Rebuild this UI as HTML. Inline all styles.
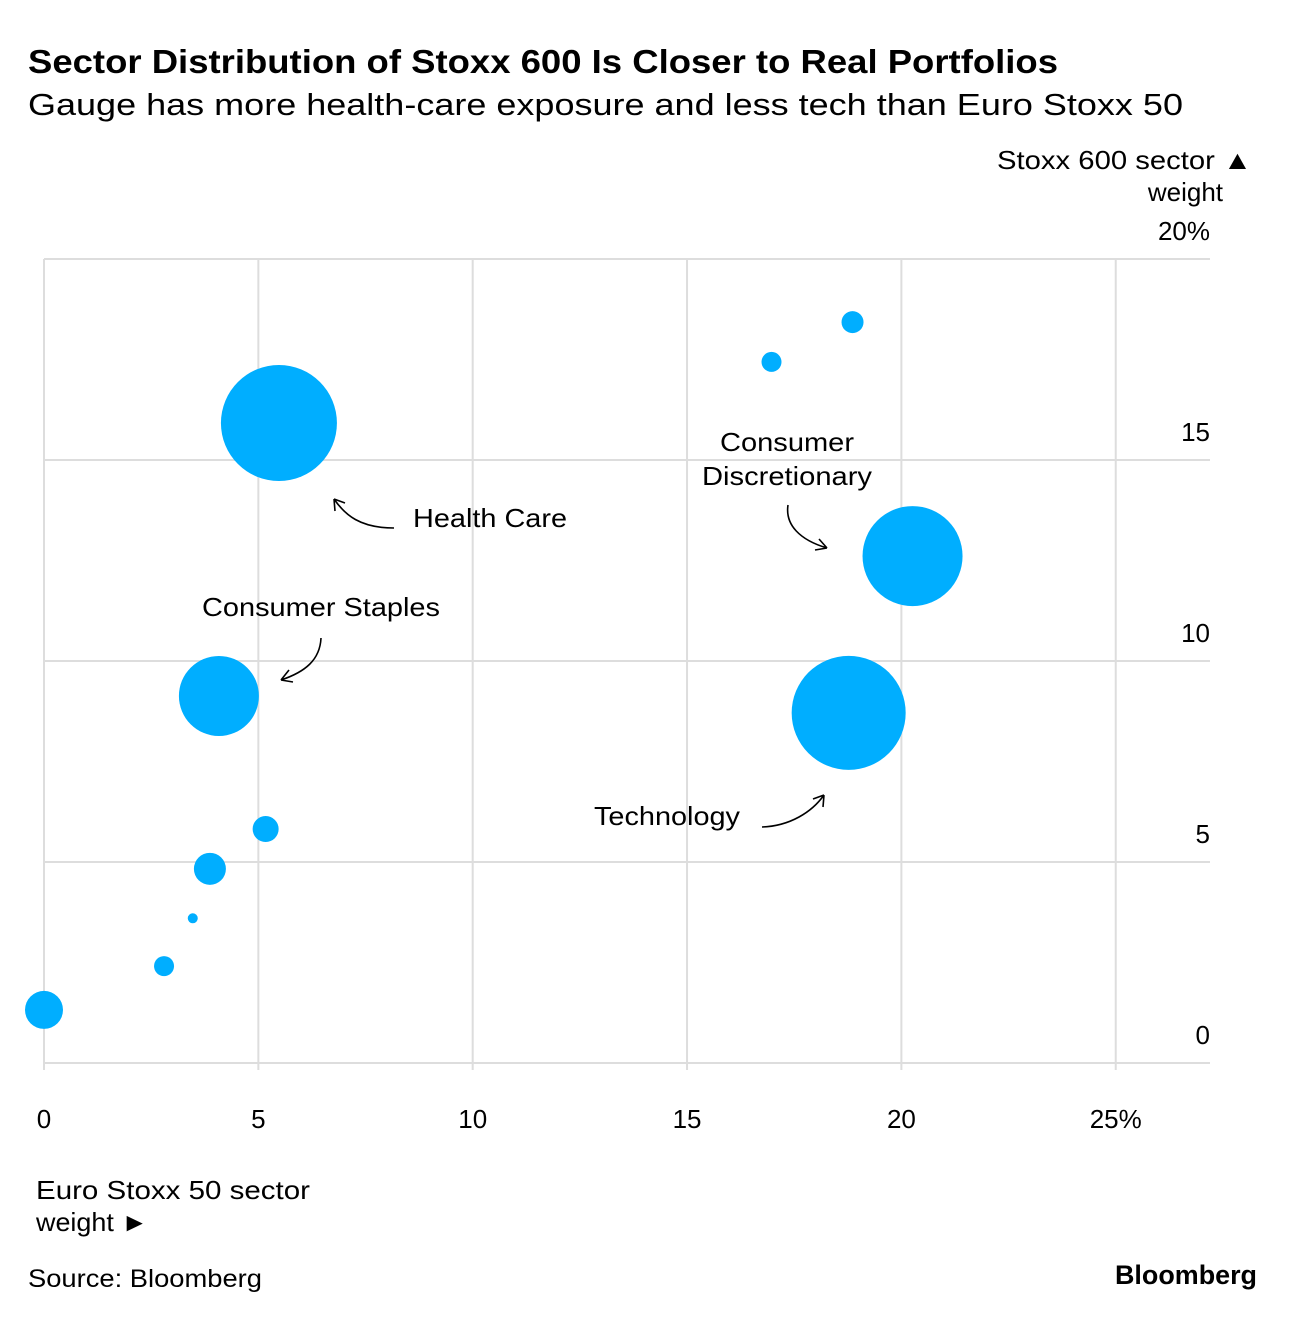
<!DOCTYPE html>
<html><head><meta charset="utf-8">
<style>
body{margin:0;background:#fff;font-family:"Liberation Sans",sans-serif;}
svg text{font-family:"Liberation Sans",sans-serif;fill:#000;}
</style></head>
<body>
<svg id="chart" width="1296" height="1320">
<text x="28" y="73" font-size="33" font-weight="bold" textLength="1030" lengthAdjust="spacingAndGlyphs">Sector Distribution of Stoxx 600 Is Closer to Real Portfolios</text>
<text x="28" y="115" font-size="31" textLength="1155" lengthAdjust="spacingAndGlyphs">Gauge has more health-care exposure and less tech than Euro Stoxx 50</text>
<text x="997" y="169" font-size="26" textLength="255" lengthAdjust="spacingAndGlyphs">Stoxx 600 sector ▲</text>
<text x="1223" y="201" font-size="26" text-anchor="end">weight</text>
<g id="grid"></g>
<g id="bubbles"></g>
<g id="annotations" fill="none" stroke="#000" stroke-width="1.6">
<path d="M394,528 C360,528 345,515 334,499 M334,499 l1,12 M334,499 l11,4"/>
<path d="M321,638 C320,660 305,672 281,680 M281,680 l8,-10 M281,680 l12,2"/>
<path d="M788,505 C785,525 800,540 827,548 M827,548 l-8,-9 M827,548 l-12,2"/>
<path d="M762,827 C790,826 812,812 824,795 M824,795 l-11,4 M824,795 l-1,12"/>
</g>
<text x="413" y="527" font-size="26" textLength="154" lengthAdjust="spacingAndGlyphs">Health Care</text>
<text x="202" y="616" font-size="26" textLength="238" lengthAdjust="spacingAndGlyphs">Consumer Staples</text>
<text x="720" y="451" font-size="26" textLength="134" lengthAdjust="spacingAndGlyphs">Consumer</text>
<text x="702" y="485" font-size="26" textLength="170" lengthAdjust="spacingAndGlyphs">Discretionary</text>
<text x="594" y="825" font-size="26" textLength="146" lengthAdjust="spacingAndGlyphs">Technology</text>
<text x="36" y="1199" font-size="26" textLength="274" lengthAdjust="spacingAndGlyphs">Euro Stoxx 50 sector</text>
<text x="36" y="1231" font-size="26" textLength="112" lengthAdjust="spacingAndGlyphs">weight ►</text>
<text x="28" y="1287" font-size="25" textLength="234" lengthAdjust="spacingAndGlyphs">Source: Bloomberg</text>
<text x="1257" y="1284" font-size="27" font-weight="bold" text-anchor="end" textLength="142" lengthAdjust="spacingAndGlyphs">Bloomberg</text>
</svg>
<script>
const xTicks=[0,5,10,15,20,25];
const xTickLabels=["0","5","10","15","20","25%"];
const yTicks=[0,5,10,15,20];
const yTickLabels=["0","5","10","15","20%"];
const euroStoxx50=[0,2.8,3.47,3.87,5.17,4.08,5.48,16.97,18.86,20.26,18.77];
const stoxx600=[1.32,2.41,3.6,4.83,5.82,9.13,15.92,17.44,18.43,12.61,8.71];
const bubbleSize=[19,10,5,16,13,40,58,10,11,50,57];
const sectorNames=["sector-a","sector-b","sector-c","sector-d","sector-e","consumer-staples","health-care","sector-h","sector-i","consumer-discretionary","technology"];
const X0=44,XS=42.87,Y0=1063,YS=40.2;
const sx=v=>X0+v*XS, sy=v=>Y0-v*YS;
const NS="http://www.w3.org/2000/svg";
const grid=document.getElementById('grid'), bub=document.getElementById('bubbles');
function mk(tag,attrs,parent){const e=document.createElementNS(NS,tag);for(const k in attrs)e.setAttribute(k,attrs[k]);parent.appendChild(e);return e;}
xTicks.forEach((t,i)=>{
  const l=mk('line',{x1:sx(t),x2:sx(t),y1:259,y2:1070,stroke:'#ddd','stroke-width':2},grid);
  
  
  const tx=mk('text',{x:sx(t),y:1128,'font-size':26,'text-anchor':'middle'},grid);
  tx.textContent=xTickLabels[i];
  
  
});
yTicks.forEach((t,i)=>{
  const l=mk('line',{x1:44,x2:1210,y1:sy(t),y2:sy(t),stroke:'#ddd','stroke-width':2},grid);
  
  
  const tx=mk('text',{x:1210,y:sy(t)-19,'font-size':26,'text-anchor':'end'},grid);
  tx.textContent=yTickLabels[i];
  
  
});
euroStoxx50.forEach((v,i)=>{
  const c=mk('circle',{cx:sx(v),cy:sy(stoxx600[i]),r:bubbleSize[i],fill:'#00aeff'},bub);
  
  
});
</script>
</body></html>
